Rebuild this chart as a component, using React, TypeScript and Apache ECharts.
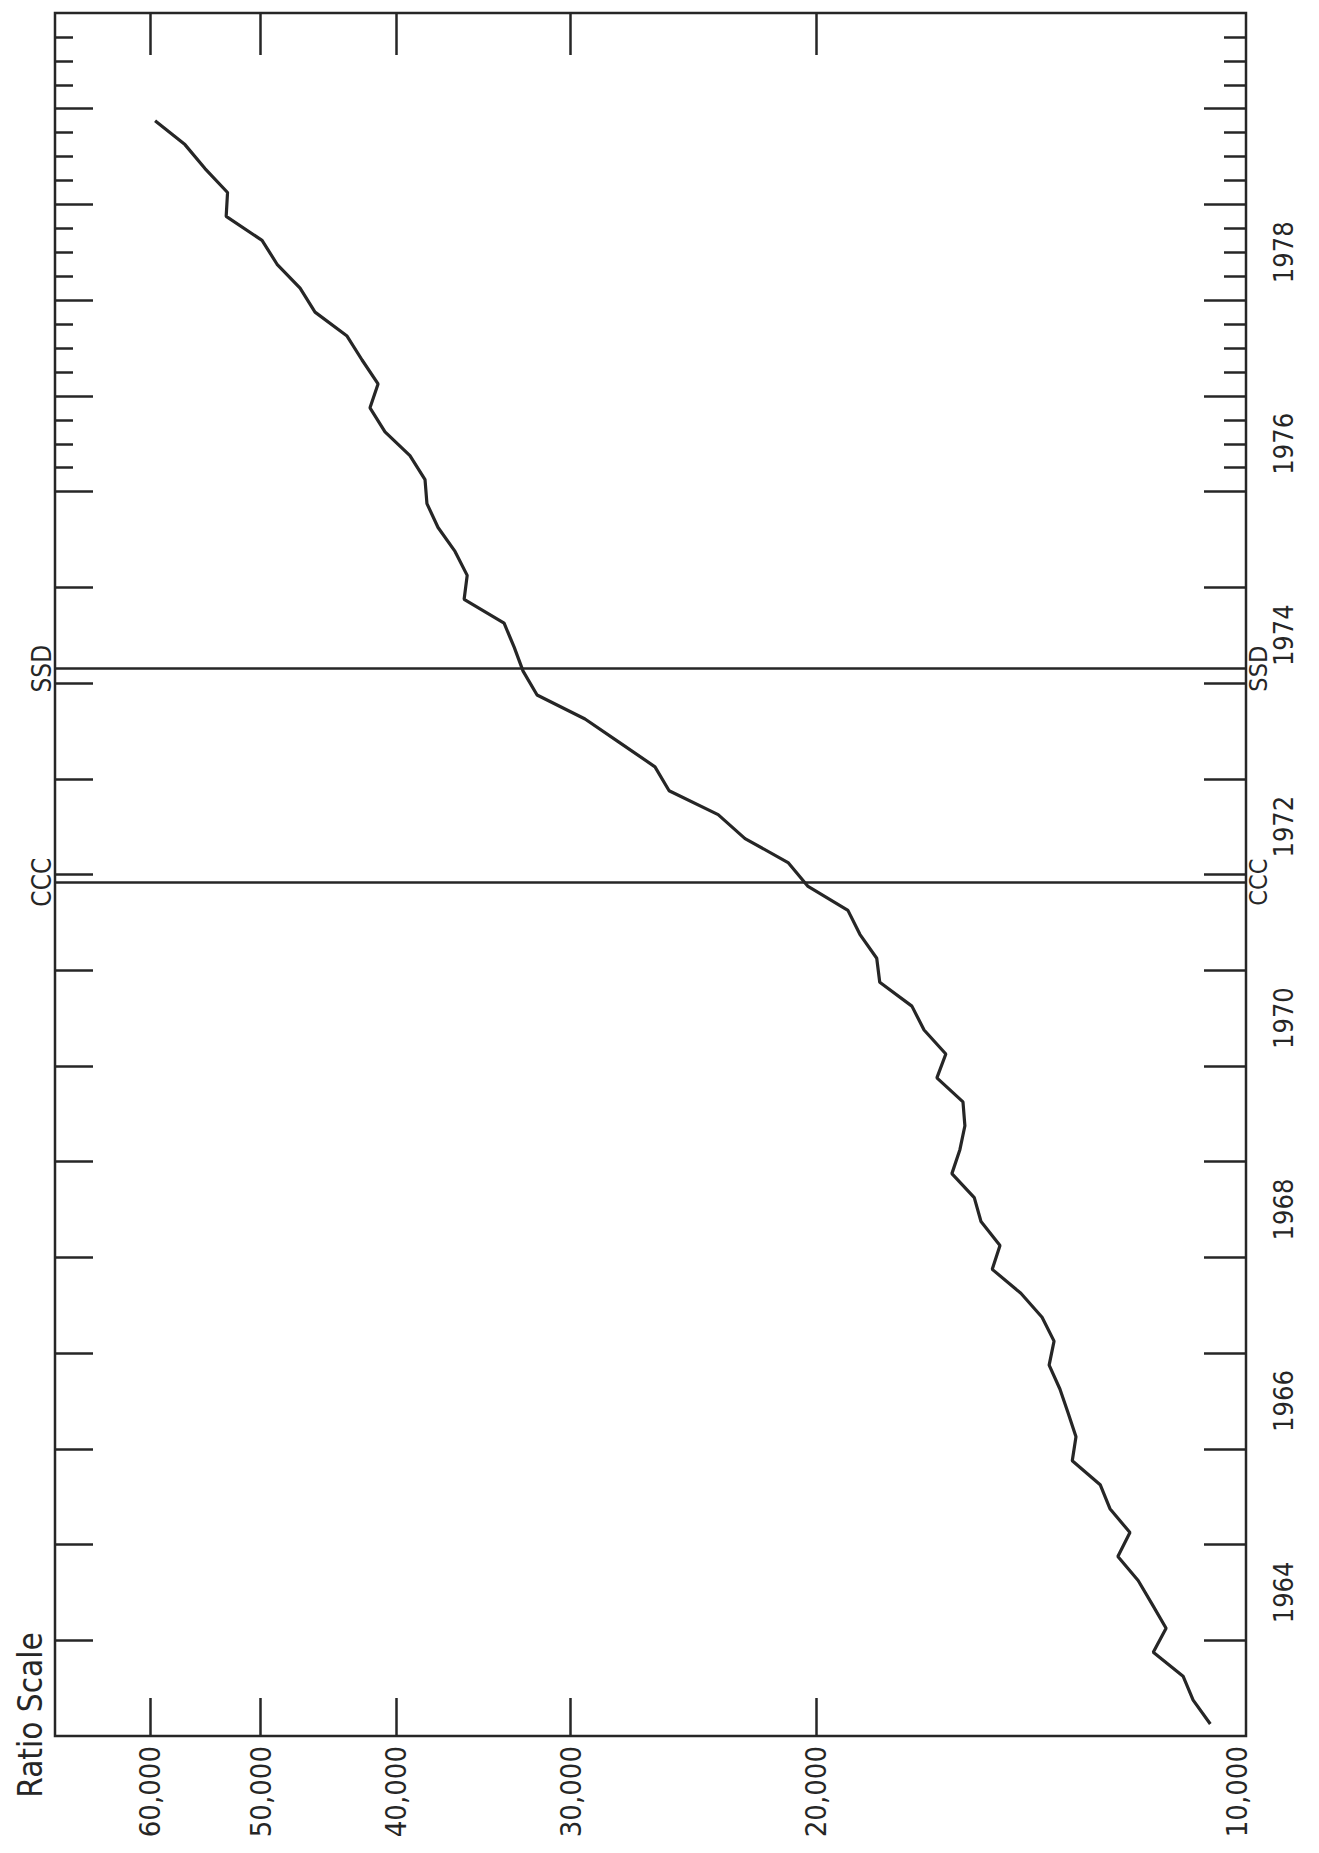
import { useEffect, useRef } from "react";
import * as echarts from "echarts";

// Quarterly periods plotted (mid-quarter)
const periods: string[] = [
  "1963Q1", "1963Q2", "1963Q3", "1963Q4",
  "1964Q1", "1964Q2", "1964Q3", "1964Q4",
  "1965Q1", "1965Q2", "1965Q3", "1965Q4",
  "1966Q1", "1966Q2", "1966Q3", "1966Q4",
  "1967Q1", "1967Q2", "1967Q3", "1967Q4",
  "1968Q1", "1968Q2", "1968Q3", "1968Q4",
  "1969Q1", "1969Q2", "1969Q3", "1969Q4",
  "1970Q1", "1970Q2", "1970Q3", "1970Q4",
  "1971Q1", "1971Q2", "1971Q3", "1971Q4",
  "1972Q1", "1972Q2", "1972Q3", "1972Q4",
  "1973Q1", "1973Q2", "1973Q3", "1973Q4",
  "1974Q1", "1974Q2", "1974Q3", "1974Q4",
  "1975Q1", "1975Q2", "1975Q3", "1975Q4",
  "1976Q1", "1976Q2", "1976Q3", "1976Q4",
  "1977Q1", "1977Q2", "1977Q3", "1977Q4",
  "1978Q1", "1978Q2", "1978Q3", "1978Q4",
  "1979Q1", "1979Q2", "1979Q3", "1979Q4",
];

const deposits: number[] = [
  10450, 10750, 10930, 11480,
  11240, 11500, 11770, 12170,
  11930, 12330, 12530, 13120,
  13040, 13210, 13390, 13630,
  13520, 13790, 14280, 14970,
  14780, 15250, 15420, 16000,
  15790, 15660, 15710, 16400,
  16160, 16750, 17090, 18020,
  18110, 18620, 18990, 20280,
  20960, 22500, 23520, 25500,
  26100, 27650, 29290, 31700,
  32440, 32920, 33470, 35750,
  35570, 36290, 37320, 38010,
  38130, 39090, 40730, 41750,
  41200, 42300, 43360, 45710,
  46850, 48660, 49880, 52920,
  52800, 54800, 56640, 59500,
];

const valueLabelValues: number[] = [10000, 20000, 30000, 40000, 50000, 60000];
const valueTickLabels: string[] = ["10,000", "20,000", "30,000", "40,000", "50,000", "60,000"];
const valueTickValues: number[] = [20000, 30000, 40000, 50000, 60000];

const yearTicks: number[] = [
  1964, 1965, 1966, 1967, 1968, 1969, 1970, 1971, 1972,
  1973, 1974, 1975, 1976, 1977, 1978, 1979, 1980,
];
const yearLabels: number[] = [1964, 1966, 1968, 1970, 1972, 1974, 1976, 1978];
const quarterTicks: number[] = [
  1976.25, 1976.5, 1976.75,
  1977.25, 1977.5, 1977.75,
  1978.25, 1978.5, 1978.75,
  1979.25, 1979.5, 1979.75,
  1980.25, 1980.5, 1980.75,
];

const eventNames: string[] = ["CCC", "SSD"];
const eventTimes: number[] = [1971.92, 1974.15];

const TIME_MIN = 1963;
const TIME_MAX = 1981;
const VALUE_MIN = 9853;
const VALUE_MAX = 70170;

const INK = "#262626";
const FONT = '"Liberation Sans Narrow", "DejaVu Sans Condensed", "Liberation Sans", sans-serif';

function timeOf(p: string): number {
  const y = parseInt(p.slice(0, 4), 10);
  const q = parseInt(p.slice(5), 10);
  return y + (q - 0.5) / 4;
}

export default function App() {
  const ref = useRef<HTMLDivElement | null>(null);

  useEffect(() => {
    document.body.style.margin = "0";
    if (!ref.current) return;
    const chart = echarts.init(ref.current, undefined, { renderer: "svg" });

    const logLabels = valueLabelValues.map((v) => Math.log10(v));
    const logTicks = valueTickValues.map((v) => Math.log10(v));
    const labelFor = (v: number) => {
      let best = 0;
      let d = Infinity;
      logLabels.forEach((t, i) => {
        if (Math.abs(t - v) < d) {
          d = Math.abs(t - v);
          best = i;
        }
      });
      return valueTickLabels[best];
    };
    const eventFor = (v: number) => {
      const i = eventTimes.findIndex((t) => Math.abs(t - v) < 0.01);
      return i >= 0 ? eventNames[i] : "";
    };

    const tickStyle = { color: INK, width: 2.5 };
    const labelStyle = { color: INK, fontFamily: FONT };

    const option: any = {
      animation: false,
      backgroundColor: "#ffffff",
      grid: {
        left: 55,
        right: 73,
        top: 13,
        bottom: 117,
        show: true,
        borderColor: INK,
        borderWidth: 2.5,
        containLabel: false,
        outerBoundsMode: "none",
      },
      xAxis: [
        {
          type: "log",
          logBase: 10,
          min: VALUE_MIN,
          max: VALUE_MAX,
          inverse: true,
          position: "bottom",
          show: false,
        },
        {
          type: "value",
          min: Math.log10(VALUE_MIN),
          max: Math.log10(VALUE_MAX),
          inverse: true,
          position: "bottom",
          axisLine: { show: false },
          splitLine: { show: false },
          axisTick: { show: true, inside: true, length: 38, customValues: logTicks, lineStyle: tickStyle },
          axisLabel: {
            show: true,
            customValues: logLabels,
            formatter: (v: number) => labelFor(v),
            rotate: 90,
            margin: 10,
            fontSize: 29,
            ...labelStyle,
          },
        },
        {
          type: "value",
          min: Math.log10(VALUE_MIN),
          max: Math.log10(VALUE_MAX),
          inverse: true,
          position: "top",
          axisLine: { show: false },
          splitLine: { show: false },
          axisTick: { show: true, inside: true, length: 42, customValues: logTicks, lineStyle: tickStyle },
          axisLabel: { show: false },
        },
      ],
      yAxis: [
        {
          type: "value",
          min: TIME_MIN,
          max: TIME_MAX,
          position: "right",
          axisLine: { show: false },
          splitLine: { show: false },
          axisTick: { show: true, inside: true, length: 42, customValues: yearTicks, lineStyle: tickStyle },
          axisLabel: {
            show: true,
            customValues: yearLabels.map((y) => y + 0.5),
            formatter: (v: number) => String(Math.floor(v)),
            rotate: 90,
            margin: 24,
            fontSize: 27,
            ...labelStyle,
          },
        },
        {
          type: "value",
          min: TIME_MIN,
          max: TIME_MAX,
          position: "right",
          axisLine: { show: false },
          splitLine: { show: false },
          axisTick: { show: true, inside: true, length: 22, customValues: quarterTicks, lineStyle: tickStyle },
          axisLabel: {
            show: true,
            customValues: eventTimes,
            formatter: (v: number) => eventFor(v),
            rotate: 90,
            margin: 0,
            fontSize: 25,
            ...labelStyle,
          },
        },
        {
          type: "value",
          min: TIME_MIN,
          max: TIME_MAX,
          position: "left",
          axisLine: { show: false },
          splitLine: { show: false },
          axisTick: { show: true, inside: true, length: 38, customValues: yearTicks, lineStyle: tickStyle },
          axisLabel: {
            show: true,
            customValues: eventTimes,
            formatter: (v: number) => eventFor(v),
            rotate: 90,
            margin: 0,
            fontSize: 26,
            ...labelStyle,
          },
        },
        {
          type: "value",
          min: TIME_MIN,
          max: TIME_MAX,
          position: "left",
          axisLine: { show: false },
          splitLine: { show: false },
          axisTick: { show: true, inside: true, length: 18, customValues: quarterTicks, lineStyle: tickStyle },
          axisLabel: { show: false },
        },
      ],
      series: [
        {
          type: "line",
          xAxisIndex: 0,
          yAxisIndex: 0,
          data: periods.map((p, i) => [deposits[i], timeOf(p)]),
          symbol: "none",
          smooth: false,
          lineStyle: { color: INK, width: 3.2 },
          markLine: {
            silent: true,
            symbol: "none",
            label: { show: false },
            lineStyle: { color: INK, width: 2.5, type: "solid" },
            data: eventTimes.map((t) => ({ yAxis: t })),
          },
          z: 3,
        },
      ],
      graphic: [
        {
          type: "text",
          x: 30,
          y: 1715,
          rotation: Math.PI / 2,
          style: {
            text: "Ratio Scale",
            fontSize: 33,
            fontFamily: FONT,
            fill: INK,
            align: "center",
            verticalAlign: "middle",
          },
        },
      ],
    };

    chart.setOption(option);
    return () => chart.dispose();
  }, []);

  return <div ref={ref} style={{ width: 1319, height: 1853 }} />;
}
